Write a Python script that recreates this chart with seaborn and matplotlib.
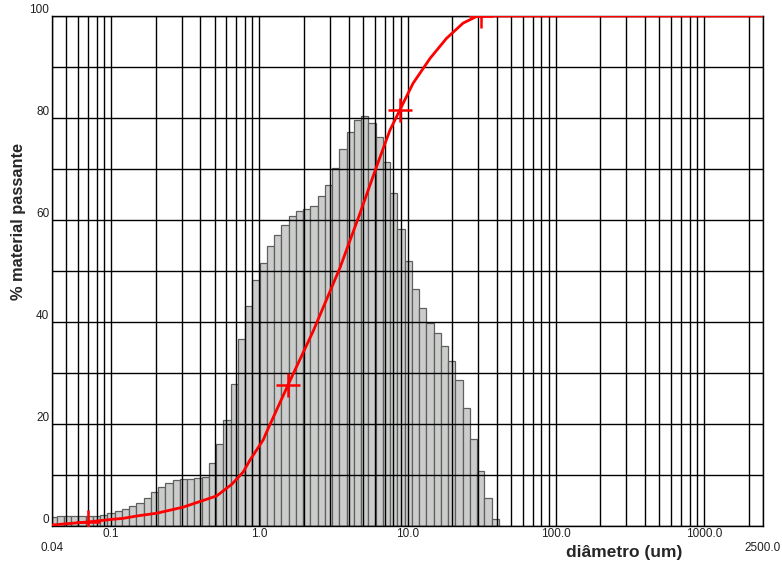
import numpy as np
import pandas as pd
import matplotlib.pyplot as plt
import seaborn as sns
from matplotlib.ticker import LogLocator, NullFormatter, FixedLocator

# classes granulometricas (log-espacadas, um)
bin_lo = 0.0384
bin_hi = 41.3
hist_vals = [
    1.7, 2.0, 2.0, 2.0, 2.0, 2.0, 2.0, 2.2, 2.6, 3.0,
    3.4, 3.9, 4.6, 5.5, 6.7, 7.7, 8.5, 9.0, 9.2, 9.2,
    9.5, 9.6, 12.4, 16.1, 20.8, 27.8, 36.6, 43.1, 48.2, 51.5,
    54.9, 57.1, 59.0, 60.8, 61.8, 62.1, 62.7, 64.7, 66.8, 70.2,
    73.9, 77.3, 79.6, 80.3, 79.1, 76.2, 71.4, 65.2, 58.2, 52.0,
    46.5, 42.8, 39.9, 37.9, 35.2, 32.4, 28.6, 23.1, 17.0, 10.8,
    5.5, 1.3,
]

# curva acumulada (% passante)
cum_d = [0.04, 0.0703, 0.101, 0.121, 0.152, 0.203, 0.307, 0.516, 0.654,
         0.78, 0.865, 1.064, 1.12, 1.56, 2.31, 3.50, 4.78, 6.19, 7.61,
         8.89, 10.9, 14.2, 18.3, 23.7, 29.2, 32.2, 2500]
cum_p = [0.2, 0.8, 1.3, 1.5, 2.0, 2.5, 3.7, 5.9, 8.2,
         10.6, 12.9, 16.9, 18.4, 27.6, 38.2, 50.6, 61.3, 70.5, 77.6,
         81.6, 86.8, 91.7, 95.6, 98.6, 99.9, 100, 100]

# pontos marcados na curva
mark_d = [0.070, 1.56, 8.9, 31.5]
mark_p = [0.8, 27.6, 81.6, 100]

x_ticks = [0.04, 0.1, 1, 10, 100, 1000, 2500]
x_labels = ["\n0.04", "0.1", "1.0", "10.0", "100.0", "1000.0", "\n2500.0"]
y_ticks = [0, 20, 40, 60, 80, 100]

sns.set_theme(style="white")
plt.rcParams['font.family'] = ['Liberation Sans', 'DejaVu Sans']

edges = np.geomspace(bin_lo, bin_hi, len(hist_vals) + 1)
hist_df = pd.DataFrame({
    "d": np.sqrt(edges[:-1] * edges[1:]),
    "h": hist_vals,
})

fig = plt.figure(figsize=(7.82, 5.64), dpi=100)
ax = fig.add_axes([52 / 782, 1 - 526 / 564, 711 / 782, 510 / 564])

sns.histplot(
    data=hist_df,
    x="d",
    weights="h",
    bins=list(np.log10(edges)),
    log_scale=True,
    color="#cccccc",
    edgecolor="#5c615c",
    linewidth=0.9,
    alpha=1,
    ax=ax
)

sns.lineplot(x=cum_d, y=cum_p, color="red", linewidth=2.0, ax=ax, zorder=4)

ax.plot(mark_d, mark_p, linestyle="none", marker="+", markersize=17,
        markeredgewidth=1.8, color="red", zorder=5)

ax.set_xscale("log")
ax.set_xlim(0.04, 2500)
ax.set_ylim(0, 100)

ax.set_xticks(x_ticks)
ax.set_xticklabels(x_labels)
ax.xaxis.set_minor_locator(LogLocator(base=10, subs=np.arange(2, 10), numticks=20))
ax.xaxis.set_minor_formatter(NullFormatter())

ax.set_yticks(y_ticks)
ax.set_yticklabels([str(v) for v in y_ticks])
ax.yaxis.set_minor_locator(FixedLocator([10, 30, 50, 70, 90]))
for lbl in ax.get_yticklabels():
    lbl.set_verticalalignment("bottom")

ax.tick_params(which="both", length=0, labelsize=8.5, colors="#202020")
ax.tick_params(axis="y", pad=2)
ax.tick_params(axis="x", pad=1.5)

ax.set_axisbelow(False)
ax.grid(which="both", color="black", linewidth=1.0)

for s in ax.spines.values():
    s.set_color("black")
    s.set_linewidth(1.0)

ax.set_ylabel("% material passante", fontsize=11.8, fontweight="bold")
ax.yaxis.set_label_coords(-0.0366, 0.598)
ax.set_xlabel("diâmetro (um)", fontsize=12.5, fontweight="bold")
ax.xaxis.set_label_coords(0.8045, -0.037)

fig.savefig("out.png", dpi=100)
plt.close(fig)
